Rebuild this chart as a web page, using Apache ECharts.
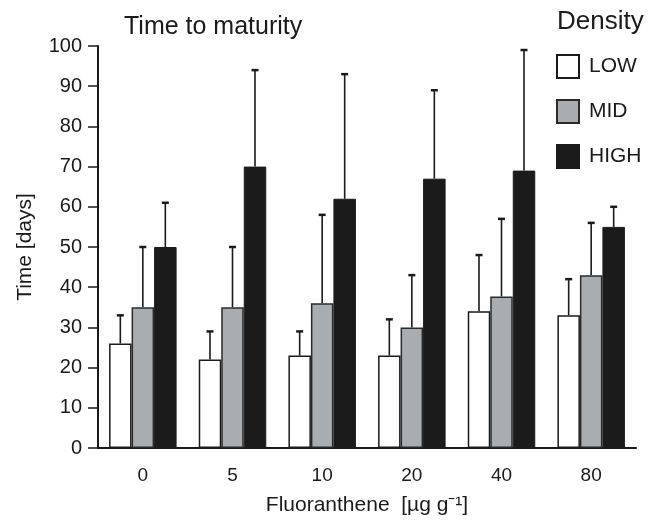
<!DOCTYPE html>
<html>
<head>
<meta charset="utf-8">
<script src="https://cdn.jsdelivr.net/npm/echarts@6/dist/echarts.min.js"></script>
<style>html,body{margin:0;padding:0;background:#fff;}#c{width:653px;height:521px;}</style>
</head>
<body>
<div id="c"></div>
<script>
const categories = ['0', '5', '10', '20', '40', '80'];
const lowMean = [26, 22, 23, 23, 34, 33];
const lowErr  = [33, 29, 29, 32, 48, 42];
const midMean = [35, 35, 36, 30, 37.7, 43];
const midErr  = [50, 50, 58, 43, 57, 56];
const highMean = [50, 70, 62, 67, 69, 55];
const highErr  = [61, 94, 93, 89, 99, 60];
const yTicks = [0, 10, 20, 30, 40, 50, 60, 70, 80, 90, 100];

const BAR_W = 22.5;
const FONT = 'Liberation Sans, Arial, Helvetica, sans-serif';

function errSeries(name, means, tops, k) {
  return {
    type: 'custom',
    name: name,
    z: 1,
    silent: true,
    data: means.map((m, i) => [i, m, tops[i]]),
    renderItem: function (params, api) {
      const b = api.coord([api.value(0), api.value(1)]);
      const t = api.coord([api.value(0), api.value(2)]);
      const x = b[0] + (k - 1) * BAR_W;
      return {
        type: 'group',
        children: [
          {type: 'line', shape: {x1: x, y1: b[1], x2: x, y2: t[1]}, style: {stroke: '#1a1a1a', lineWidth: 1.6}},
          {type: 'line', shape: {x1: x - 3.5, y1: t[1], x2: x + 3.5, y2: t[1]}, style: {stroke: '#1a1a1a', lineWidth: 2.5}}
        ]
      };
    }
  };
}

const chart = echarts.init(document.getElementById('c'));
chart.setOption({
  animation: false,
  backgroundColor: '#fff',
  textStyle: {fontFamily: FONT},
  title: [
    {text: 'Time to maturity', left: 119, top: 10, textStyle: {fontSize: 25, fontWeight: 'normal', color: '#1a1a1a', fontFamily: FONT}},
    {text: 'Density', left: 552, top: 4, textStyle: {fontSize: 26, fontWeight: 'normal', color: '#1a1a1a', fontFamily: FONT}}
  ],
  legend: {
    data: ['LOW', 'MID', 'HIGH'],
    orient: 'vertical',
    left: 551,
    top: 49,
    itemWidth: 22,
    itemHeight: 23,
    itemGap: 20,
    icon: 'rect',
    textStyle: {fontSize: 21, color: '#1a1a1a', padding: [0, 0, 0, 5], fontFamily: FONT}
  },
  grid: {left: 98, top: 46, right: 17, bottom: 72, containLabel: false},
  xAxis: {
    type: 'category',
    data: categories,
    name: 'Fluoranthene  [\u00b5g g\u207b\u00b9]',
    nameLocation: 'middle',
    nameGap: 47,
    nameTextStyle: {fontSize: 21, color: '#1a1a1a', fontFamily: FONT},
    axisLine: {lineStyle: {color: '#1a1a1a', width: 2}},
    axisTick: {alignWithLabel: true, length: 8, lineStyle: {color: '#1a1a1a', width: 1.5}},
    axisLabel: {fontSize: 19, color: '#1a1a1a', margin: 18, fontFamily: FONT},
    splitLine: {show: false}
  },
  yAxis: {
    type: 'value',
    min: 0,
    max: 100,
    interval: 10,
    name: 'Time [days]',
    nameLocation: 'middle',
    nameGap: 62,
    nameRotate: 90,
    nameTextStyle: {fontSize: 21, color: '#1a1a1a', fontFamily: FONT},
    axisLine: {show: true, lineStyle: {color: '#1a1a1a', width: 2}},
    axisTick: {show: true, inside: false, length: 10, lineStyle: {color: '#1a1a1a', width: 1.5}},
    axisLabel: {fontSize: 20, color: '#1a1a1a', margin: 16, fontFamily: FONT,
      formatter: function (v) { return yTicks.indexOf(v) >= 0 ? String(v) : ''; }},
    splitLine: {show: false}
  },
  series: [
    {name: 'LOW', type: 'bar', data: lowMean, barWidth: BAR_W, barGap: '0%', z: 2,
      itemStyle: {color: '#ffffff', borderColor: '#1a1a1a', borderWidth: 1.5}},
    {name: 'MID', type: 'bar', data: midMean, barWidth: BAR_W, barGap: '0%', z: 2,
      itemStyle: {color: '#a9adb0', borderColor: '#2a2a2a', borderWidth: 1.5}},
    {name: 'HIGH', type: 'bar', data: highMean, barWidth: BAR_W, barGap: '0%', z: 2,
      itemStyle: {color: '#1b1b1b', borderColor: '#1b1b1b', borderWidth: 1}},
    errSeries('errLOW', lowMean, lowErr, 0),
    errSeries('errMID', midMean, midErr, 1),
    errSeries('errHIGH', highMean, highErr, 2)
  ]
});
</script>
</body>
</html>
